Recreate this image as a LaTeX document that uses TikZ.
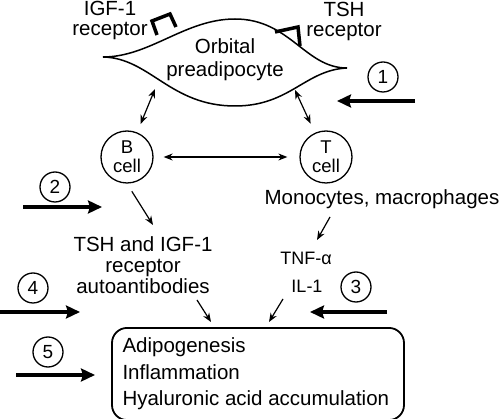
\documentclass[tikz,border=0pt]{standalone}
\usepackage{fontspec}
\setmainfont{Liberation Sans}
\usetikzlibrary{arrows.meta,positioning}
\tikzstyle{cellnode}=[draw,circle,line width=1.3pt,minimum size=52pt,inner sep=0pt,
  align=center,font=\fontsize{18.5}{19}\selectfont]
\tikzstyle{num}=[draw,circle,line width=1.3pt,minimum size=30pt,inner sep=0pt,
  font=\fontsize{19}{19}\selectfont]
\tikzstyle{txt}=[align=center,inner sep=0pt,font=\fontsize{20.5}{21}\selectfont]
\tikzstyle{small}=[align=center,inner sep=0pt,font=\fontsize{18}{18}\selectfont]
\tikzstyle{link}=[{Stealth[length=9pt,width=7pt]}-{Stealth[length=9pt,width=7pt]}, line width=1.2pt]
\tikzstyle{flow}=[-{Stealth[length=9pt,width=7pt]}, line width=1.2pt]
\tikzstyle{push}=[-{Stealth[length=14pt,width=13pt,inset=2pt]}, line width=4.5pt]
\tikzstyle{recep}=[line width=3.5pt]
\tikzstyle{outcome}=[draw,rounded corners=15pt,line width=1.8pt,align=flush left,
  text width=271pt,minimum height=87pt,inner xsep=10.5pt,inner ysep=10pt,
  font=\fontsize{20.5}{26.5}\selectfont]

\begin{document}
\begin{tikzpicture}[x=1pt, y=-1pt, on grid, node distance=199pt]
  \useasboundingbox (0,0) rectangle (501,419);

  % the preadipocyte and its receptors
  \draw[line width=1.5pt] (103,57) .. controls (150,57) and (185,19) .. (235,19)
    .. controls (290,19) and (305,68) .. (347,68)
    .. controls (305,70) and (290,106) .. (235,106)
    .. controls (170,106) and (150,58) .. (103,57);
  \node[txt, font=\fontsize{20.5}{23}\selectfont] (cell) at (225,60) {Orbital\\preadipocyte};
  \node[txt, font=\fontsize{20.5}{20}\selectfont] (igf) at (110,20) {IGF-1\\receptor};
  \node[txt, font=\fontsize{20.5}{20}\selectfont] (tsh) at (344,21) {TSH\\receptor};
  \draw[recep] (157,35) -- (152,21) -- (170,14) -- (176,27);
  \draw[recep] (275,32) -- (298,27) -- (300,46);

  \node[cellnode]                (bcell) at (127,157) {B\\cell};
  \node[cellnode, right=of bcell] (tcell) {T\\cell};
  \node[txt]   (mono) at (382,199) {Monocytes, macrophages};
  \node[txt]   (anti) at (143,265) {TSH and IGF-1\\receptor\\autoantibodies};
  \node[small] (tnf)  at (306,258) {TNF-α};
  \node[small] (il)   at (307,286) {IL-1};
  \node[outcome] (box) at (258,374) {Adipogenesis\\Inflammation\\Hyaluronic acid accumulation};

  \coordinate (c1) at (155,89);
  \coordinate (c2) at (295,90);
  \draw[link, shorten >=9pt] (c1) -- (bcell);
  \draw[link, shorten >=10pt] (c2) -- (tcell);
  \draw[link, shorten <=10pt, shorten >=12pt] (bcell) -- (tcell);

  \coordinate (b1) at (153,225);
  \coordinate (m1) at (330,217);
  \coordinate (m2) at (317,240);
  \coordinate (a1) at (197,300);
  \coordinate (a2) at (211,322);
  \coordinate (i1) at (283,299);
  \coordinate (i2) at (269,322);
  \draw[flow, shorten <=9pt] (bcell.south) -- (b1);
  \draw[flow] (m1) -- (m2);
  \draw[flow] (a1) -- (a2);
  \draw[flow] (i1) -- (i2);

  % numbered interventions
  \node[num] (n1) at (383,77)  {1};
  \node[num] (n2) at (55,187)  {2};
  \node[num] (n3) at (356,287) {3};
  \node[num] (n4) at (33,288)  {4};
  \node[num] (n5) at (48,352)  {5};
  \coordinate (p1s) at (415,101); \coordinate (p1e) at (337,101);
  \coordinate (p2s) at (23,207);  \coordinate (p2e) at (102,207);
  \coordinate (p3s) at (387,312); \coordinate (p3e) at (310,312);
  \coordinate (p4s) at (0,312);   \coordinate (p4e) at (80,312);
  \coordinate (p5s) at (16,375);  \coordinate (p5e) at (95,375);
  \draw[push] (p1s) -- (p1e);
  \draw[push] (p2s) -- (p2e);
  \draw[push] (p3s) -- (p3e);
  \draw[push] (p4s) -- (p4e);
  \draw[push] (p5s) -- (p5e);
\end{tikzpicture}
\end{document}
